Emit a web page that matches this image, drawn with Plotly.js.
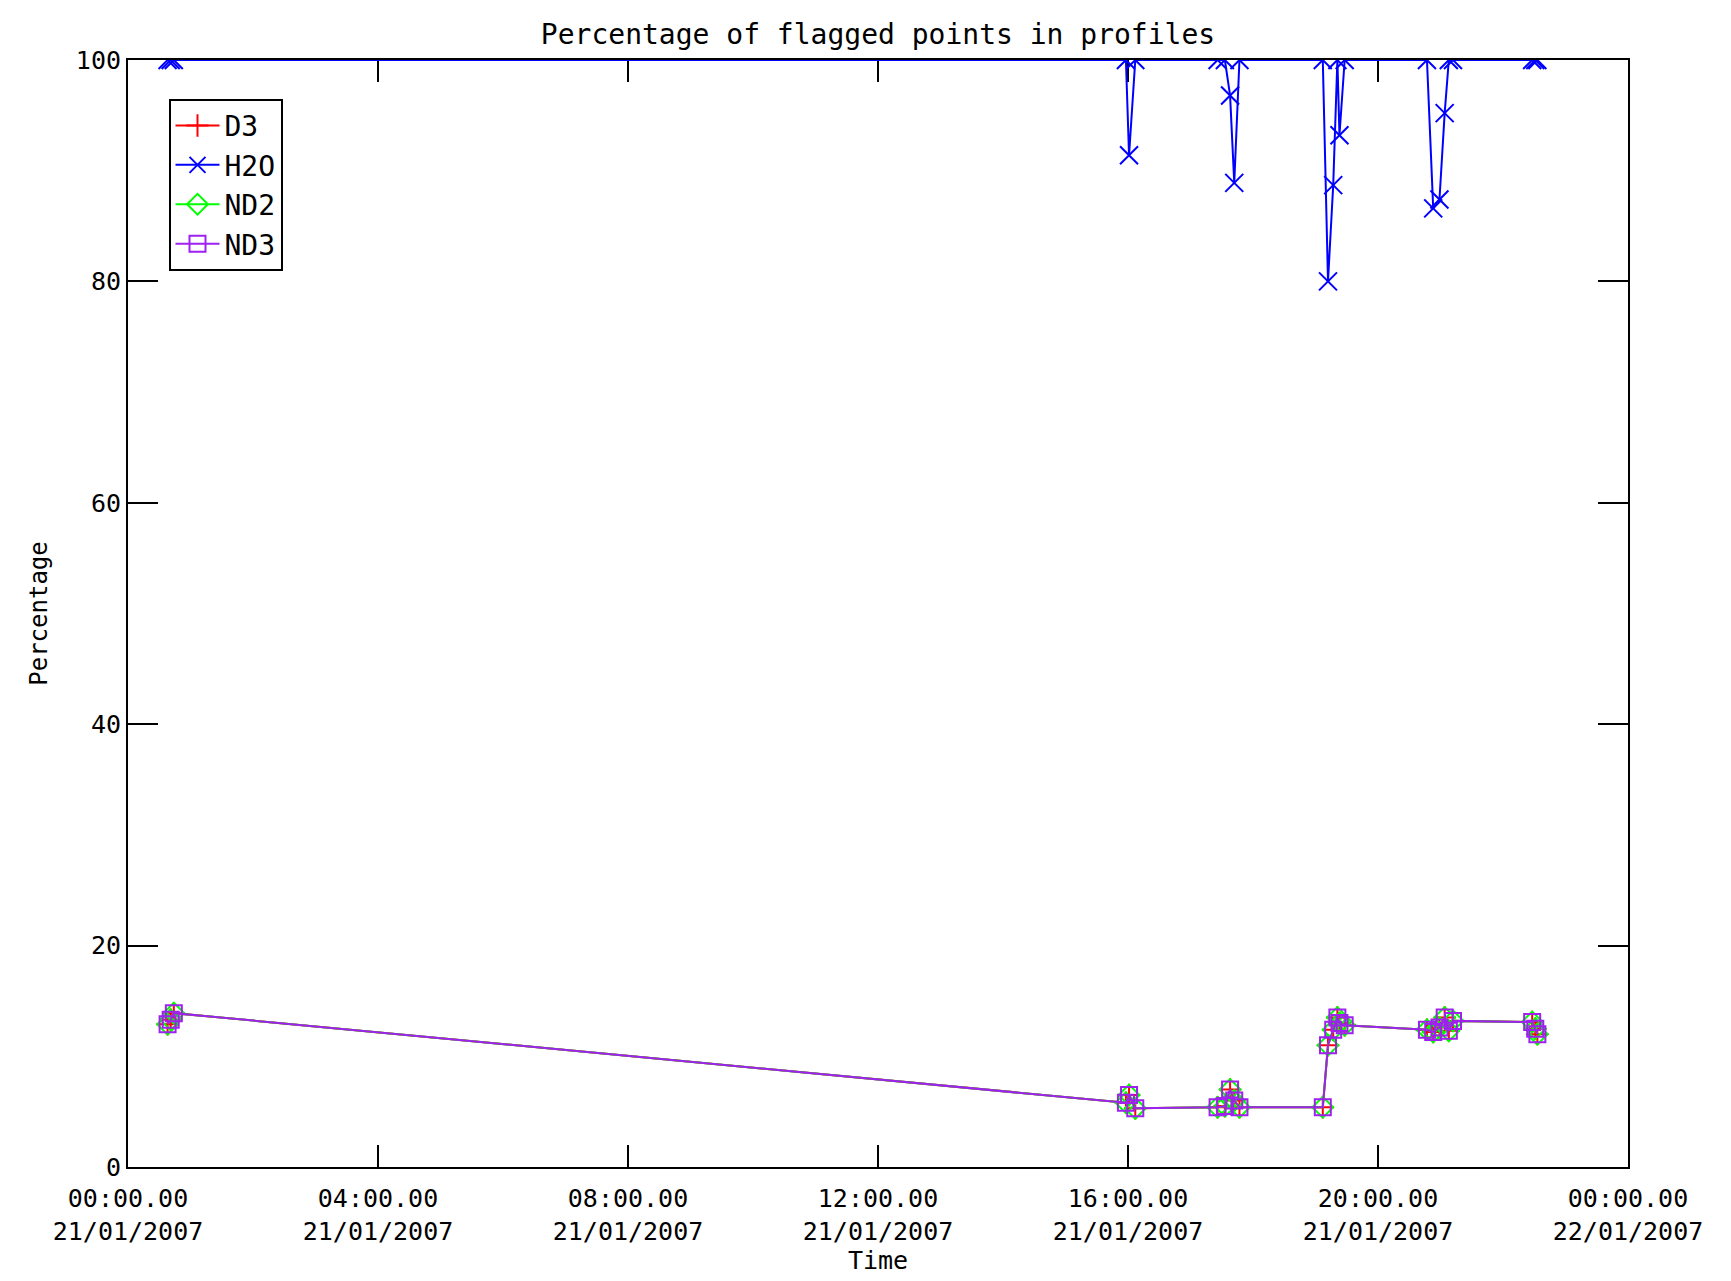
<!DOCTYPE html>
<html>
<head>
<meta charset="utf-8">
<script src="https://cdn.plot.ly/plotly-3.0.1.min.js"></script>
<style>html,body{margin:0;padding:0;background:#fff;}#chart{width:1731px;height:1281px;}</style>
</head>
<body>
<div id="chart"></div>
<script>
// Sample times (HH:MM on 21/01/2007)
var times = ['00:38','00:41','00:44',
             '15:58','16:01','16:07',
             '17:26','17:33','17:38','17:42','17:47',
             '19:07','19:12','19:17','19:21','19:23','19:28',
             '20:47','20:53','20:59','21:04','21:08','21:12',
             '22:28','22:31','22:33'];
// Percentage of flagged points per variable
var d3Vals  = [12.9,13.3,13.9, 5.8,6.5,5.3, 5.4,5.5,7.0,6.0,5.4, 5.4,11.0,12.4,13.5,13.0,12.8, 12.4,12.2,12.6,13.5,12.3,13.2, 13.1,12.5,12.0];
var h2oVals = [100,100,100, 100,91.4,100, 100,100,96.8,88.9,100, 100,80.0,88.7,100,93.2,100, 100,86.6,87.4,95.2,100,100, 100,100,100];
var nd2Vals = [12.9,13.3,13.9, 5.8,6.5,5.3, 5.4,5.5,7.0,6.0,5.4, 5.4,11.0,12.4,13.5,13.0,12.8, 12.4,12.2,12.6,13.5,12.3,13.2, 13.1,12.5,12.0];
var nd3Vals = [12.9,13.3,13.9, 5.8,6.5,5.3, 5.4,5.5,7.0,6.0,5.4, 5.4,11.0,12.4,13.5,13.0,12.8, 12.4,12.2,12.6,13.5,12.3,13.2, 13.1,12.5,12.0];
var seriesNames = ['D3','H2O','ND2','ND3'];
// Axis ticks
var xTickVals = ['2007-01-21 00:00','2007-01-21 04:00','2007-01-21 08:00','2007-01-21 12:00','2007-01-21 16:00','2007-01-21 20:00','2007-01-22 00:00'];
var xTickText = ['00:00.00<br>21/01/2007','04:00.00<br>21/01/2007','08:00.00<br>21/01/2007','12:00.00<br>21/01/2007','16:00.00<br>21/01/2007','20:00.00<br>21/01/2007','00:00.00<br>22/01/2007'];
var yTickVals = [0,20,40,60,80,100];

var x = times.map(function(t){ return '2007-01-21 ' + t; });
var FONT = '"DejaVu Sans Mono", "Liberation Mono", monospace';

function trace(name, y, color, symbol, size) {
  return {
    x: x, y: y, name: name, type: 'scatter', mode: 'lines+markers',
    line: {color: color, width: 2},
    marker: {symbol: symbol, size: size, color: color, line: {color: color, width: 2}}
  };
}

var data = [
  trace(seriesNames[0], d3Vals, '#ff0000', 'cross-thin-open', 16),
  trace(seriesNames[1], h2oVals, '#0000ff', 'x-thin-open', 18),
  trace(seriesNames[2], nd2Vals, '#00ff00', 'diamond-open', 16),
  trace(seriesNames[3], nd3Vals, '#a020f0', 'square-open', 16)
];

var layout = {
  width: 1731, height: 1281,
  paper_bgcolor: '#ffffff', plot_bgcolor: '#ffffff',
  margin: {l: 128, r: 103, t: 60, b: 114},
  font: {family: FONT, color: '#000000', size: 26},
  title: {text: 'Percentage of flagged points in profiles', font: {family: FONT, size: 28, color: '#000'},
          x: 0.5, xref: 'paper', xanchor: 'center', y: 1 - 34/1281, yref: 'container', yanchor: 'middle'},
  showlegend: true,
  legend: {x: 0.027, y: 0.965, xanchor: 'left', yanchor: 'top', bgcolor: '#ffffff',
           bordercolor: '#000000', borderwidth: 2, font: {family: FONT, size: 28, color: '#000'},
           tracegroupgap: 0, itemwidth: 44},
  xaxis: {
    type: 'date', range: ['2007-01-21 00:00', '2007-01-22 00:00'],
    tickmode: 'array', tickvals: xTickVals, ticktext: xTickText,
    ticks: 'inside', ticklen: 22, tickwidth: 2, tickcolor: '#000',
    showline: true, linecolor: '#000', linewidth: 2, mirror: 'ticks',
    showgrid: false, zeroline: false, layer: 'below traces',
    ticklabelstandoff: 8,
    tickfont: {family: FONT, size: 25, color: '#000'},
    title: {text: 'Time', font: {family: FONT, size: 25, color: '#000'}, standoff: 2}
  },
  yaxis: {
    range: [0, 100], tickmode: 'array', tickvals: yTickVals,
    ticks: 'inside', ticklen: 30, tickwidth: 2, tickcolor: '#000',
    showline: true, linecolor: '#000', linewidth: 2, mirror: 'ticks',
    showgrid: false, zeroline: false, layer: 'below traces',
    tickfont: {family: FONT, size: 25, color: '#000'},
    title: {text: 'Percentage', font: {family: FONT, size: 24, color: '#000'}, standoff: 21}
  }
};

Plotly.newPlot('chart', data, layout, {displayModeBar: false, responsive: false});
</script>
</body>
</html>
